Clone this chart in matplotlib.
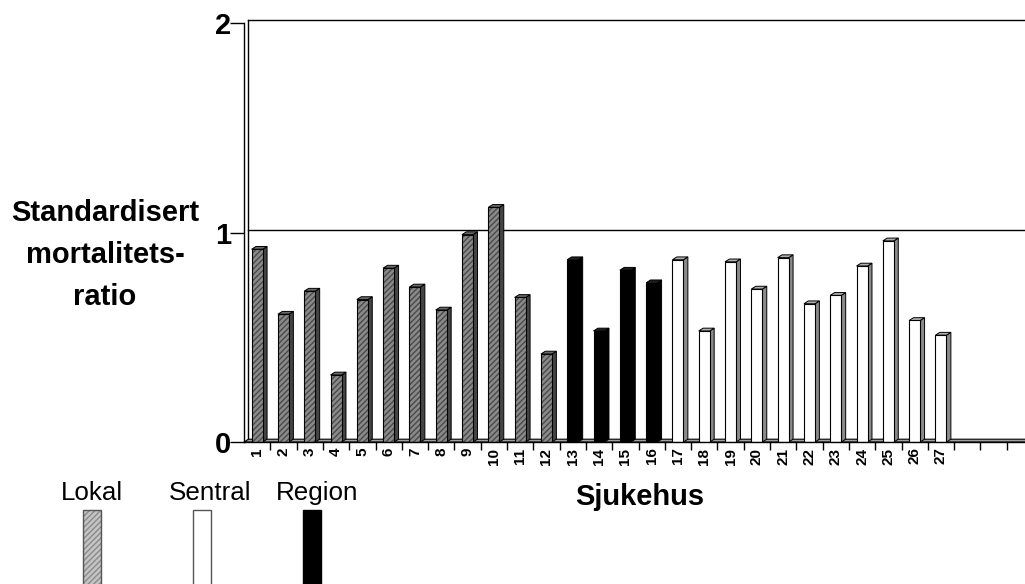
import matplotlib
matplotlib.use("Agg")
import matplotlib.pyplot as plt
from matplotlib.patches import Polygon, Rectangle

plt.rcParams['font.family'] = ['Liberation Sans', 'DejaVu Sans']

# ---- data ----
hospitals = [str(i) for i in range(1, 28)]
smr = [0.92, 0.61, 0.72, 0.32, 0.68, 0.83, 0.74, 0.63, 0.99, 1.12, 0.69, 0.42,
       0.87, 0.53, 0.82, 0.76,
       0.87, 0.53, 0.86, 0.73, 0.88, 0.66, 0.70, 0.84, 0.96, 0.58, 0.51]
htype = ['Lokal'] * 12 + ['Region'] * 4 + ['Sentral'] * 11
n_slots = 30
yticks = [0, 1, 2]
legend_labels = ['Lokal', 'Sentral', 'Region']

W, H = 1025, 584
fig = plt.figure(figsize=(W / 100, H / 100), dpi=100)

def px(x, y):
    return x / W, 1 - y / H

ax_left, ax_right, ax_bottom, ax_top = 244, 1025, 442, 23
ax = fig.add_axes([ax_left / W, 1 - ax_bottom / H, (ax_right - ax_left) / W, (ax_bottom - ax_top) / H])
slot_px = 26.3
x0 = 0.5
x1 = x0 + (ax_right - ax_left) / slot_px
ax.set_xlim(x0, x1)
ax.set_ylim(0, 2)

unit_px = (ax_bottom - ax_top) / 2.0
dx = 4.4 / slot_px
dy = 2.8 / unit_px
bw = 0.42

styles = {
    'Lokal': dict(front='#8a8a8a', hatch_col='#4a4a4a', side='#444444', top='#6a6a6a'),
    'Sentral': dict(front='white', hatch_col=None, side='#8a8a8a', top='#b0b0b0'),
    'Region': dict(front='black', hatch_col=None, side='black', top='#202020'),
}

# floor
floor = Polygon([(x0, 0), (x1 + 1, 0), (x1 + 1 + dx, dy), (x0 + dx, dy)], closed=True,
                facecolor='#a0a0a0', edgecolor='black', lw=0.8, clip_on=False, zorder=1)
ax.add_patch(floor)

# back wall lines / gridlines
for yv in [1, 2]:
    ax.plot([x0 + dx, x1 + 1], [yv + dy, yv + dy], color='black', lw=1.0, zorder=0.5, clip_on=False)
ax.plot([x0 + dx, x0 + dx], [dy, 2 + dy], color='black', lw=1.0, clip_on=False, zorder=0.5)

for i, (v, t) in enumerate(zip(smr, htype)):
    xc = i + 1
    st = styles[t]
    l, r = xc - bw / 2, xc + bw / 2
    side = Polygon([(r, 0), (r + dx, dy), (r + dx, v + dy), (r, v)], closed=True,
                   facecolor=st['side'], edgecolor='black', lw=0.7, zorder=2)
    top = Polygon([(l, v), (r, v), (r + dx, v + dy), (l + dx, v + dy)], closed=True,
                  facecolor=st['top'], edgecolor='black', lw=0.7, zorder=2)
    ax.add_patch(side)
    ax.add_patch(top)
    if st['hatch_col']:
        ax.add_patch(Rectangle((l, 0), bw, v, facecolor=st['front'], edgecolor=st['hatch_col'],
                               hatch='//////', lw=0, zorder=3))
        ax.add_patch(Rectangle((l, 0), bw, v, fill=False, edgecolor='black', lw=0.8, zorder=4))
    else:
        ax.add_patch(Rectangle((l, 0), bw, v, facecolor=st['front'], edgecolor='black', lw=0.8, zorder=3))

# spines & ticks
for s in ['top', 'right']:
    ax.spines[s].set_visible(False)
ax.spines['left'].set_bounds(0, 2)
ax.spines['left'].set_linewidth(1.0)
ax.spines['bottom'].set_linewidth(1.0)
ax.spines['bottom'].set_zorder(5)

ax.set_yticks(yticks)
ax.set_yticklabels([str(v) for v in yticks], fontsize=21, fontweight='bold')
ax.tick_params(axis='y', direction='out', length=10, width=1, pad=-1)

ax.set_xticks([x0 + k for k in range(1, n_slots)])
ax.set_xticklabels([])
ax.tick_params(axis='x', which='major', direction='out', length=6, width=1)
ax.set_xticks(list(range(1, len(hospitals) + 1)), minor=True)
ax.set_xticklabels(hospitals, minor=True, rotation=90, fontsize=11, fontweight='bold', va='top', ha='center')
ax.tick_params(axis='x', which='minor', length=0, pad=4)
ax.patch.set_alpha(0)

# axis labels
for txt, yy in [('Standardisert', 213), ('mortalitets-', 255), ('ratio', 297)]:
    fig.text(*px(105, yy), txt, fontsize=21, fontweight='bold', ha='center', va='center')
fig.text(*px(640, 497), 'Sjukehus', fontsize=21, fontweight='bold', ha='center', va='center')

# legend
leg_pos = {'Lokal': (92, 83), 'Sentral': (210, 193), 'Region': (317, 303)}
leg_fill = {'Lokal': ('#c4c4c4', '#8a8a8a'), 'Sentral': ('white', None), 'Region': ('black', None)}
for lab in legend_labels:
    tx, rx = leg_pos[lab]
    fig.text(*px(tx, 493), lab, fontsize=18.7, ha='center', va='center')
    fc, hc = leg_fill[lab]
    x_, y_ = px(rx, 590)
    w_, h_ = 17.5 / W, 80 / H
    if hc:
        fig.add_artist(Rectangle((x_, y_), w_, h_, transform=fig.transFigure, facecolor=fc,
                                 edgecolor=hc, hatch='//////', lw=0))
        fig.add_artist(Rectangle((x_, y_), w_, h_, transform=fig.transFigure, fill=False,
                                 edgecolor='#555555', lw=1))
    else:
        fig.add_artist(Rectangle((x_, y_), w_, h_, transform=fig.transFigure, facecolor=fc,
                                 edgecolor='#555555' if fc == 'white' else 'black', lw=1))

fig.savefig('out.png', dpi=100)
